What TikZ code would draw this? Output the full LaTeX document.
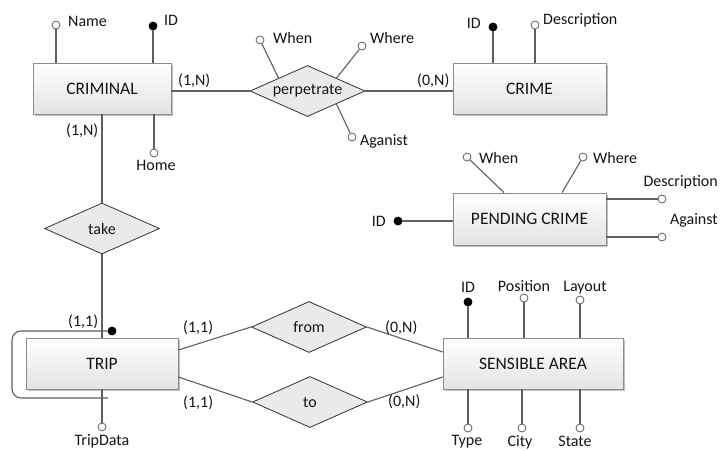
\documentclass[tikz,border=0pt]{standalone}
\usepackage{fontspec}
\setmainfont{Carlito}
\usetikzlibrary{shapes.geometric,shadows,calc}
\definecolor{linec}{HTML}{5F5F5F}
\definecolor{boxc}{HTML}{8C8C8C}
\definecolor{relc}{HTML}{333333}
\definecolor{relfill}{HTML}{EAEAEA}
\definecolor{txt}{HTML}{151515}
\tikzset{
  entity/.style={rectangle, draw=boxc, line width=0.8pt, top color=white, bottom color=black!11,
    minimum height=51pt, inner sep=0pt, font=\fontsize{17.5}{20}\selectfont, text=txt,
    drop shadow={shadow xshift=2pt, shadow yshift=-2pt, opacity=0.25, fill=black}},
  rel/.style={diamond, draw=relc, line width=0.8pt, fill=relfill, aspect=2.25,
    minimum width=115pt, minimum height=51pt, inner sep=0pt, font=\fontsize{16}{19}\selectfont, text=txt},
  attr/.style={circle, draw=linec, fill=white, minimum size=8pt, inner sep=0pt, line width=0.8pt},
  keyattr/.style={attr, fill=black, draw=black},
  lbl/.style={inner sep=0pt, font=\fontsize{16}{19}\selectfont, text=txt},
  conn/.style={draw=linec, line width=1.1pt}
}
\begin{document}
\begin{tikzpicture}[x=1pt,y=-1pt]
\useasboundingbox (0,0) rectangle (720,450);
\fill[white] (0,0) rectangle (720,450);

% entities
\node[entity, minimum width=138pt] (crim) at (102,88.5) {CRIMINAL};
\node[entity, minimum width=153pt] (crime) at (529.5,88.5) {CRIME};
\node[entity, minimum width=153pt, minimum height=52pt] (pc) at (529.5,219) {PENDING CRIME};
\node[entity, minimum width=152pt] (trip) at (102,363.5) {TRIP};
\node[entity, minimum width=180pt] (area) at (533,363.5) {SENSIBLE AREA};

% relationships
\node[rel] (perp) at (307.5,91) {perpetrate};
\node[rel] (take) at (102,228.5) {take};
\node[rel] (from) at (309,327) {from};
\node[rel] (to) at (310,402) {to};

% relationship connectors
\draw[conn] (crim.east |- perp.west) -- (perp.west);
\draw[conn] (perp.east) -- (perp.east -| crime.west);
\draw[conn] (crim.south) -- (take.north);
\draw[conn] (take.south) -- (trip.north);
\draw[conn] ([yshift=13.5pt]trip.east) -- (from.west);
\draw[conn] ([yshift=-13.5pt]trip.east) -- (to.west);
\draw[conn] (from.east) -- ([yshift=11.5pt]area.west);
\draw[conn] (to.east) -- ([yshift=-13.5pt]area.west);

% cardinalities
\node[lbl, anchor=base west] (c1) at (178,85) {(1,N)};
\node[lbl, anchor=base west] (c2) at (66,135) {(1,N)};
\node[lbl, anchor=base west] (c3) at (417,85) {(0,N)};
\node[lbl, anchor=base west] (c4) at (68,326) {(1,1)};
\node[lbl, anchor=base west] (c5) at (183,332) {(1,1)};
\node[lbl, anchor=base west] (c6) at (183,407) {(1,1)};
\node[lbl, anchor=base west] (c7) at (385,332) {(0,N)};
\node[lbl, anchor=base west] (c8) at (388,406) {(0,N)};

% CRIMINAL attributes
\node[attr] (cName) at (56,25) {};
\draw[conn] (cName) -- (cName |- crim.north);
\node[lbl, anchor=base west] (cNameL) at (68,26) {Name};
\node[keyattr] (cID) at (153,26) {};
\draw[conn] (cID) -- (cID |- crim.north);
\node[lbl, anchor=base west] (cIDL) at (164,25) {ID};
\node[attr] (cHome) at (154,153) {};
\draw[conn] (cHome) -- (cHome |- crim.south);
\node[lbl, anchor=base] (cHomeL) at (156,170) {Home};

% perpetrate attributes
\node[attr] (pWhen) at (260,40) {};
\draw[conn] (pWhen) -- (perp.north west);
\node[lbl, anchor=base west] (pWhenL) at (273,43) {When};
\node[attr] (pWhere) at (362,46) {};
\draw[conn] (pWhere) -- (perp.north east);
\node[lbl, anchor=base west] (pWhereL) at (370,43) {Where};
\node[attr] (pAg) at (352,137) {};
\draw[conn] (pAg) -- (perp.south east);
\node[lbl, anchor=base west] (pAgL) at (360,145) {Aganist};

% CRIME attributes
\node[keyattr] (crID) at (493,27) {};
\draw[conn] (crID) -- (crID |- crime.north);
\node[lbl, anchor=base east] (crIDL) at (481,28) {ID};
\node[attr] (crDesc) at (535,25) {};
\draw[conn] (crDesc) -- (crDesc |- crime.north);
\node[lbl, anchor=base west] (crDescL) at (543,24) {Description};

% PENDING CRIME attributes
\node[keyattr] (pcID) at (398,221) {};
\draw[conn] (pcID) -- (pcID -| pc.west);
\node[lbl, anchor=base east] (pcIDL) at (386,226) {ID};
\node[attr] (pcWhen) at (467,157) {};
\draw[conn] (pcWhen) -- ([xshift=-25.5pt]pc.north);
\node[lbl, anchor=base west] (pcWhenL) at (479,163) {When};
\node[attr] (pcWhere) at (583,157) {};
\draw[conn] (pcWhere) -- ([xshift=32.5pt]pc.north);
\node[lbl, anchor=base west] (pcWhereL) at (593,163) {Where};
\node[attr] (pcDesc) at (662,199) {};
\draw[conn] (pcDesc) -- (pcDesc -| pc.east);
\node[lbl, anchor=base east] (pcDescL) at (718,186) {Description};
\node[attr] (pcAg) at (662,237) {};
\draw[conn] (pcAg) -- (pcAg -| pc.east);
\node[lbl, anchor=base east] (pcAgL) at (718,224) {Against};

% TRIP attributes
\node[keyattr] (tKey) at (112,331) {};
\coordinate (loopA) at (12,331);
\coordinate (loopB) at (12,398);
\coordinate (loopC) at (108,398);
\draw[conn, rounded corners=9pt] (tKey.west) -- (loopA) -- (loopB) -- (loopC);
\node[attr] (tData) at (102,427) {};
\draw[conn] (tData) -- (tData |- trip.south);
\node[lbl, anchor=base] (tDataL) at (102,445.5) {TripData};

% SENSIBLE AREA attributes
\node[keyattr] (aID) at (468,302) {};
\draw[conn] (aID) -- (aID |- area.north);
\node[lbl, anchor=base] (aIDL) at (468,292) {ID};
\node[attr] (aPos) at (524,298) {};
\draw[conn] (aPos) -- (aPos |- area.north);
\node[lbl, anchor=base] (aPosL) at (524,291) {Position};
\node[attr] (aLay) at (580,300) {};
\draw[conn] (aLay) -- (aLay |- area.north);
\node[lbl, anchor=base] (aLayL) at (585,291) {Layout};
\node[attr] (aType) at (468,428) {};
\draw[conn] (aType) -- (aType |- area.south);
\node[lbl, anchor=base] (aTypeL) at (467,445) {Type};
\node[attr] (aCity) at (522,428) {};
\draw[conn] (aCity) -- (aCity |- area.south);
\node[lbl, anchor=base] (aCityL) at (520,446) {City};
\node[attr] (aState) at (580,428) {};
\draw[conn] (aState) -- (aState |- area.south);
\node[lbl, anchor=base] (aStateL) at (575,446) {State};
\end{tikzpicture}
\end{document}
